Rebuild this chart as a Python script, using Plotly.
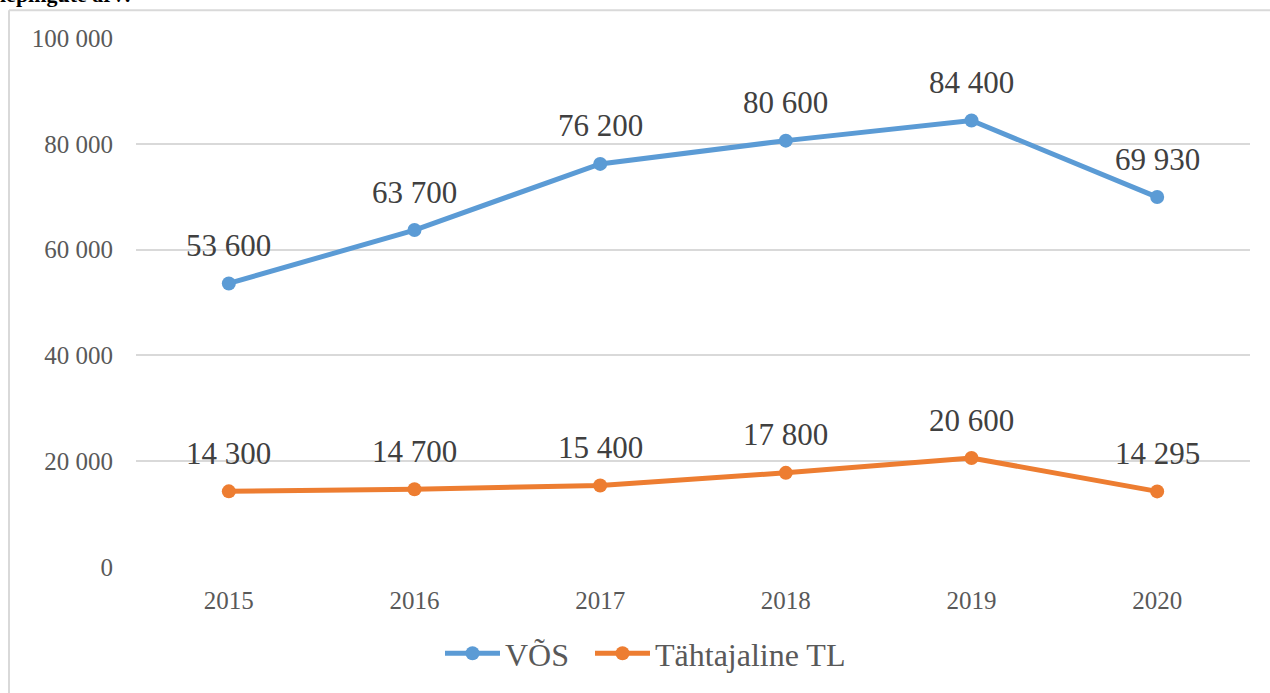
import plotly.graph_objects as go

years = ["2015", "2016", "2017", "2018", "2019", "2020"]
vos = [53600, 63700, 76200, 80600, 84400, 69930]
tl = [14300, 14700, 15400, 17800, 20600, 14295]
vos_labels = ["53 600", "63 700", "76 200", "80 600", "84 400", "69 930"]
tl_labels = ["14 300", "14 700", "15 400", "17 800", "20 600", "14 295"]
y_ticks = [0, 20000, 40000, 60000, 80000, 100000]
y_tick_text = ["0", "20 000", "40 000", "60 000", "80 000", "100 000"]

FONT = "Liberation Serif, Times New Roman, serif"
BLUE = "#5B9BD5"
ORANGE = "#ED7D31"
LABEL_COLOR = "#404040"

fig = go.Figure()
fig.add_trace(go.Scatter(
    x=years, y=vos, name="VÕS", mode="lines+markers", legend="legend",
    line=dict(color=BLUE, width=5), marker=dict(color=BLUE, size=14),
))
fig.add_trace(go.Scatter(
    x=years, y=tl, name="Tähtajaline TL", mode="lines+markers", legend="legend2",
    line=dict(color=ORANGE, width=5), marker=dict(color=ORANGE, size=14),
))

annotations = []
for ys, labs in [(vos, vos_labels), (tl, tl_labels)]:
    for i, (yv, lab) in enumerate(zip(ys, labs)):
        annotations.append(dict(
            x=i, y=yv, text=lab, xref="x", yref="y", showarrow=False,
            yshift=38, xanchor="center", yanchor="middle",
            font=dict(family=FONT, size=31, color=LABEL_COLOR),
        ))

L, R, T, B = 136, 20, 38, 123
W, H = 1270, 693
pw, ph = W - L - R, H - T - B
def px(x):
    return (x - L) / pw
def py(y):
    return (H - B - y) / ph

annotations.append(dict(
    text="<b>lepingute arv:</b>", xref="paper", yref="paper", x=px(-2), y=py(9),
    xanchor="left", yanchor="bottom", showarrow=False,
    font=dict(family=FONT, size=22, color="black"),
))

legend_common = dict(orientation="h", yanchor="middle", y=py(657), xanchor="left",
                     font=dict(family=FONT, size=32, color="#595959"),
                     itemwidth=55, bgcolor="rgba(0,0,0,0)")

fig.update_layout(
    width=W, height=H,
    margin=dict(l=L, r=R, t=T, b=B),
    paper_bgcolor="white", plot_bgcolor="white",
    font=dict(family=FONT, color="#595959"),
    showlegend=True,
    legend=dict(x=px(440), **legend_common),
    legend2=dict(x=px(590), **legend_common),
    xaxis=dict(type="category", range=[-0.5, 5.5], showgrid=False, zeroline=False,
               showline=False, ticks="", tickfont=dict(family=FONT, size=25, color="#595959"),
               ticklabelstandoff=16),
    yaxis=dict(range=[0, 100000], tickvals=y_ticks, ticktext=y_tick_text,
               showgrid=True, gridcolor="#D9D9D9", gridwidth=1.5, zeroline=False,
               showline=False, ticks="", ticklabelstandoff=22,
               tickfont=dict(family=FONT, size=25, color="#595959")),
    shapes=[
        dict(type="line", xref="paper", yref="paper", x0=px(9), x1=px(1275), y0=py(10), y1=py(10),
             line=dict(color="#D9D9D9", width=2)),
        dict(type="line", xref="paper", yref="paper", x0=px(9), x1=px(9), y0=py(10), y1=py(700),
             line=dict(color="#D9D9D9", width=2)),
    ],
    annotations=annotations,
)

fig.write_html("out.html", config={"displayModeBar": False},
               post_script="document.body.style.margin='0px';document.body.style.overflow='hidden';")
